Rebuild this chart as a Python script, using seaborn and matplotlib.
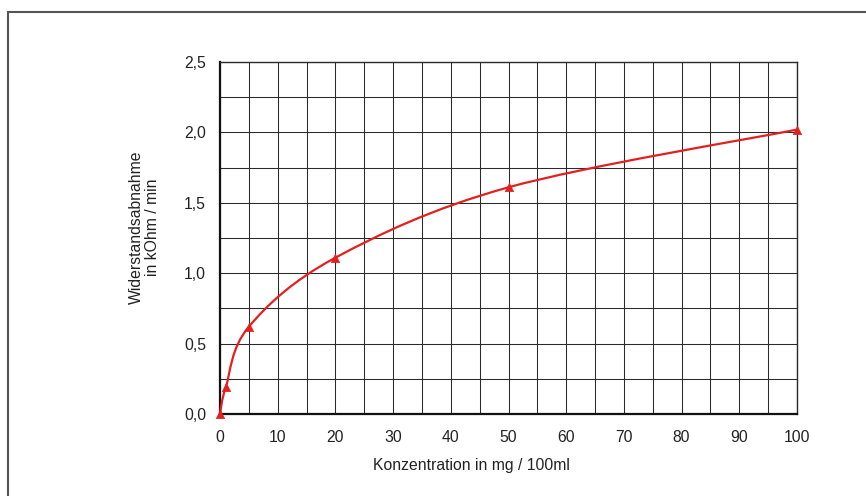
import numpy as np
import pandas as pd
import matplotlib
matplotlib.use("Agg")
import matplotlib.pyplot as plt
from matplotlib.path import Path
from matplotlib.patches import PathPatch, Rectangle
import seaborn as sns

# ---- data ----
konzentration = [0, 1, 5, 20, 50, 100]
abnahme = [0.0, 0.19, 0.62, 1.11, 1.61, 2.02]
x_ticks = [0, 10, 20, 30, 40, 50, 60, 70, 80, 90, 100]
y_ticks = [0.0, 0.5, 1.0, 1.5, 2.0, 2.5]
y_tick_labels = ["0,0", "0,5", "1,0", "1,5", "2,0", "2,5"]
x_label = "Konzentration in mg / 100ml"
y_label = "Widerstandsabnahme\nin kOhm / min"

sns.set_style("white")
plt.rcParams["font.family"] = ["Liberation Sans", "DejaVu Sans"]

RED = "#e3201f"
GRID = "#2a2a2a"
FS = 11.3

fig = plt.figure(figsize=(8.66, 4.96), dpi=100)
ax = fig.add_axes([220 / 866, 1 - 414 / 496, 577 / 866, 352 / 496])

# outer frame (extends past right / bottom edges)
fig.patches.append(Rectangle((8 / 866, -0.1), 1.2, (496 - 12) / 496 + 0.1,
                             transform=fig.transFigure, fill=False,
                             edgecolor="#555555", linewidth=1.5, zorder=0))

df = pd.DataFrame({"x": konzentration, "y": abnahme})

# smoothed line (Bezier through data points, like spreadsheet smoothing)
pts = np.column_stack([df["x"].to_numpy(float), df["y"].to_numpy(float)])
verts = [tuple(pts[0])]
codes = [Path.MOVETO]
n = len(pts)
for i in range(n - 1):
    p0 = pts[i - 1] if i > 0 else pts[i]
    p1 = pts[i]
    p2 = pts[i + 1]
    p3 = pts[i + 2] if i + 2 < n else pts[i + 1]
    c1 = p1 + (p2 - p0) / 6.0
    c2 = p2 - (p3 - p1) / 6.0
    verts += [tuple(c1), tuple(c2), tuple(p2)]
    codes += [Path.CURVE4] * 3
ax.add_patch(PathPatch(Path(verts, codes), facecolor="none", edgecolor=RED,
                       linewidth=1.6, zorder=4, clip_on=False))

sns.scatterplot(data=df, x="x", y="y", marker="^", color=RED, s=36,
                edgecolor=RED, linewidth=0.5, ax=ax, zorder=5, clip_on=False)

ax.set_xlim(0, 100)
ax.set_ylim(0, 2.5)
ax.set_xticks(x_ticks)
ax.set_xticks(np.arange(5, 100, 10), minor=True)
ax.set_yticks(y_ticks)
ax.set_yticklabels(y_tick_labels)
ax.set_yticks(np.arange(0.25, 2.5, 0.5), minor=True)

ax.grid(True, which="both", color=GRID, linewidth=0.75)
ax.set_axisbelow(True)

for s in ["top", "right"]:
    ax.spines[s].set_color(GRID)
    ax.spines[s].set_linewidth(1.0)
for s in ["left", "bottom"]:
    ax.spines[s].set_color("#111111")
    ax.spines[s].set_linewidth(1.6)

ax.tick_params(axis="both", which="major", direction="out", length=5,
               width=1.4, color="#111111", labelsize=FS, pad=5,
               labelcolor="#222222")
ax.tick_params(axis="x", which="major", pad=6.5)
ax.tick_params(axis="x", which="minor", direction="out", length=2,
               width=1.0, color="#111111")
ax.tick_params(axis="y", which="minor", length=0)

ax.set_xlabel(x_label, fontsize=FS, color="#222222")
ax.set_ylabel(y_label, fontsize=FS, color="#222222", linespacing=1.1)
ax.xaxis.set_label_coords((471 - 220) / 577, (414 - 458) / 352)
ax.yaxis.set_label_coords((160 - 220) / 577, (414 - 227) / 352)

fig.savefig("out.png", dpi=100)
